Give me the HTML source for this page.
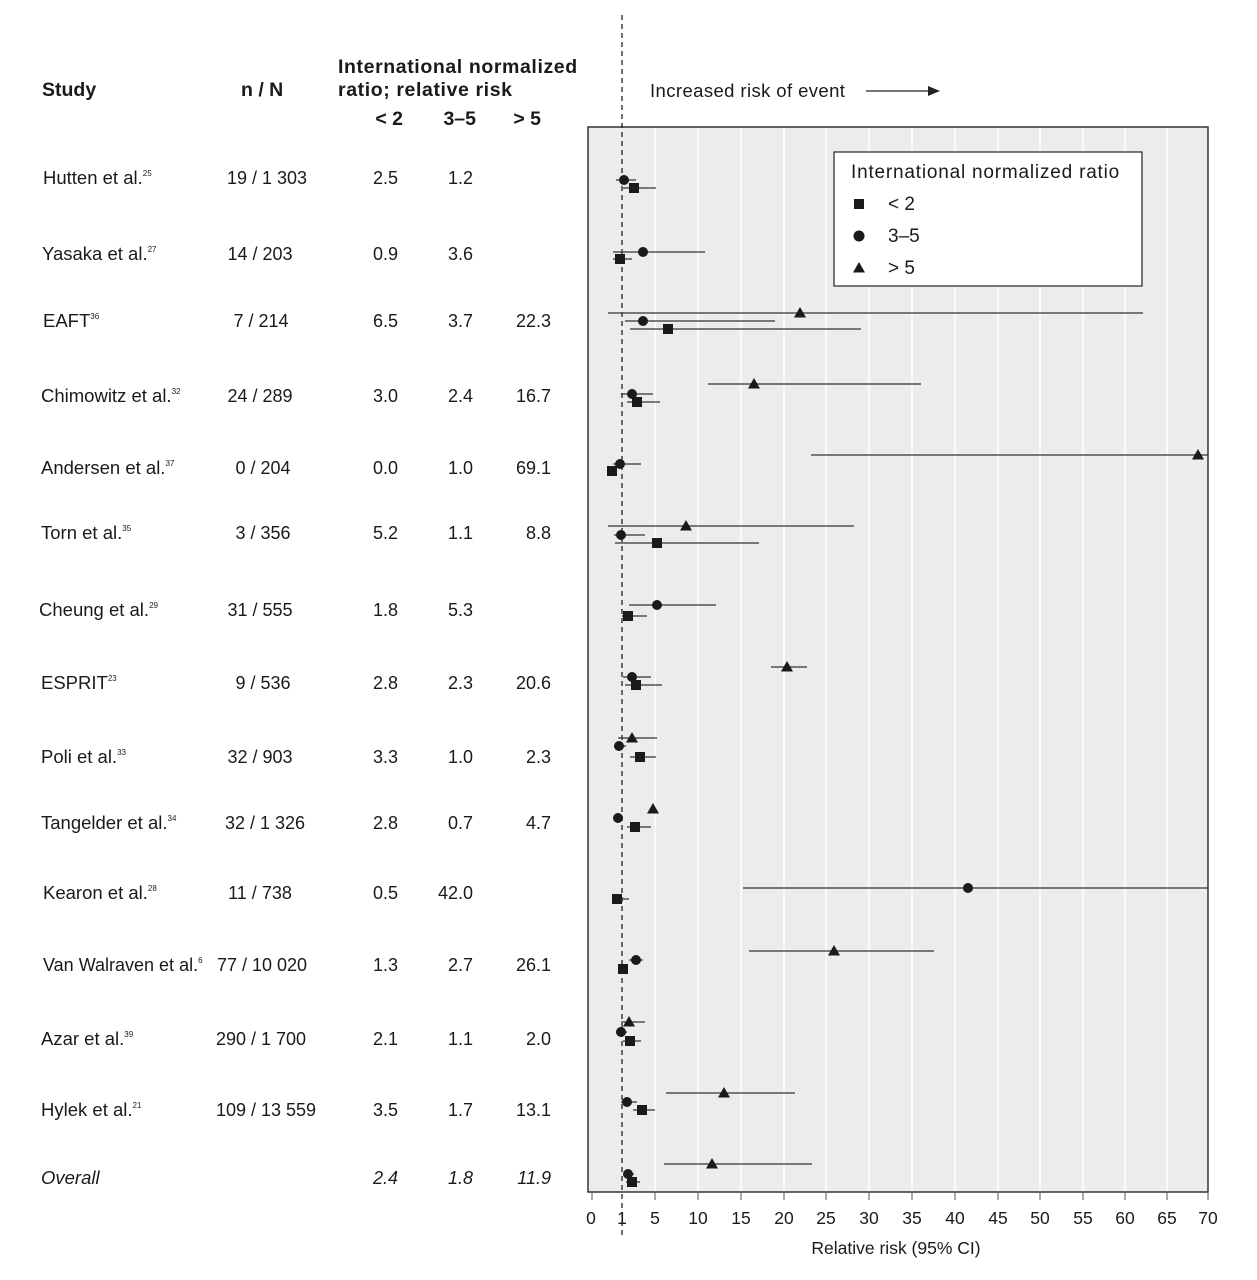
<!DOCTYPE html>
<html><head><meta charset="utf-8"><style>
html,body{margin:0;padding:0;background:#fff}
svg{display:block;font-family:"Liberation Sans",sans-serif;fill:#1a1a1a}
.b{font-weight:bold}
</style></head><body>
<svg width="1257" height="1280" viewBox="0 0 1257 1280" xmlns="http://www.w3.org/2000/svg">
<defs>
<path id="tri" d="M0,-6 L6,4.5 L-6,4.5 Z"/>
</defs>
<rect x="588" y="127" width="620" height="1065" fill="#ececec" stroke="#333" stroke-width="1.5"/>
<g stroke="#fff" stroke-width="1.5">
<line x1="655" y1="128" x2="655" y2="1191"/><line x1="698" y1="128" x2="698" y2="1191"/>
<line x1="741" y1="128" x2="741" y2="1191"/><line x1="784" y1="128" x2="784" y2="1191"/>
<line x1="826" y1="128" x2="826" y2="1191"/><line x1="869" y1="128" x2="869" y2="1191"/>
<line x1="912" y1="128" x2="912" y2="1191"/><line x1="955" y1="128" x2="955" y2="1191"/>
<line x1="998" y1="128" x2="998" y2="1191"/><line x1="1040" y1="128" x2="1040" y2="1191"/>
<line x1="1083" y1="128" x2="1083" y2="1191"/><line x1="1125" y1="128" x2="1125" y2="1191"/>
<line x1="1167" y1="128" x2="1167" y2="1191"/>
</g>
<g stroke="#555" stroke-width="1">
<line x1="592" y1="1192" x2="592" y2="1200"/><line x1="655" y1="1192" x2="655" y2="1200"/>
<line x1="698" y1="1192" x2="698" y2="1200"/><line x1="741" y1="1192" x2="741" y2="1200"/>
<line x1="784" y1="1192" x2="784" y2="1200"/><line x1="826" y1="1192" x2="826" y2="1200"/>
<line x1="869" y1="1192" x2="869" y2="1200"/><line x1="912" y1="1192" x2="912" y2="1200"/>
<line x1="955" y1="1192" x2="955" y2="1200"/><line x1="998" y1="1192" x2="998" y2="1200"/>
<line x1="1040" y1="1192" x2="1040" y2="1200"/><line x1="1083" y1="1192" x2="1083" y2="1200"/>
<line x1="1125" y1="1192" x2="1125" y2="1200"/><line x1="1167" y1="1192" x2="1167" y2="1200"/>
<line x1="1208" y1="1192" x2="1208" y2="1200"/>
</g>
<g font-size="17.5" text-anchor="middle">
<text x="591" y="1224">0</text><text x="622" y="1224">1</text><text x="655" y="1224">5</text>
<text x="698" y="1224">10</text><text x="741" y="1224">15</text><text x="784" y="1224">20</text>
<text x="826" y="1224">25</text><text x="869" y="1224">30</text><text x="912" y="1224">35</text>
<text x="955" y="1224">40</text><text x="998" y="1224">45</text><text x="1040" y="1224">50</text>
<text x="1083" y="1224">55</text><text x="1125" y="1224">60</text><text x="1167" y="1224">65</text>
<text x="1208" y="1224">70</text>
<text x="896" y="1254">Relative risk (95% CI)</text>
</g>
<line x1="622" y1="15" x2="622" y2="1236" stroke="#222" stroke-width="1.3" stroke-dasharray="5,4"/>
<text x="650" y="97" font-size="18.5" letter-spacing="0.4">Increased risk of event</text>
<line x1="866" y1="91" x2="934" y2="91" stroke="#222" stroke-width="1.3"/>
<path d="M940,91 L928,86 L928,96 Z" fill="#222"/>
<!-- legend -->
<rect x="834" y="152" width="308" height="134" fill="#fff" stroke="#333" stroke-width="1.3"/>
<text x="851" y="178" font-size="19" letter-spacing="0.8">International normalized ratio</text>
<rect x="854" y="199" width="10" height="10" fill="#1a1a1a"/>
<text x="888" y="210" font-size="19">&lt; 2</text>
<circle cx="859" cy="236" r="5.5"/>
<text x="888" y="242" font-size="19">3–5</text>
<use href="#tri" x="859" y="268"/>
<text x="888" y="274" font-size="19">&gt; 5</text>
<!-- CIs -->
<g stroke="#333" stroke-width="1.3">
<line x1="616" y1="180" x2="636" y2="180"/><line x1="623" y1="188" x2="656" y2="188"/>
<line x1="613" y1="252" x2="705" y2="252"/><line x1="613" y1="259" x2="632" y2="259"/>
<line x1="608" y1="313" x2="1143" y2="313"/><line x1="625" y1="321" x2="775" y2="321"/><line x1="630" y1="329" x2="861" y2="329"/>
<line x1="708" y1="384" x2="921" y2="384"/><line x1="621" y1="394" x2="653" y2="394"/><line x1="627" y1="402" x2="660" y2="402"/>
<line x1="811" y1="455" x2="1208" y2="455"/><line x1="613" y1="464" x2="641" y2="464"/>
<line x1="608" y1="526" x2="854" y2="526"/><line x1="614" y1="535" x2="645" y2="535"/><line x1="615" y1="543" x2="759" y2="543"/>
<line x1="629" y1="605" x2="716" y2="605"/><line x1="622" y1="616" x2="647" y2="616"/>
<line x1="771" y1="667" x2="807" y2="667"/><line x1="623" y1="677" x2="651" y2="677"/><line x1="625" y1="685" x2="662" y2="685"/>
<line x1="618" y1="738" x2="657" y2="738"/><line x1="614" y1="746" x2="626" y2="746"/><line x1="630" y1="757" x2="656" y2="757"/>
<line x1="627" y1="827" x2="651" y2="827"/>
<line x1="743" y1="888" x2="1208" y2="888"/><line x1="612" y1="899" x2="629" y2="899"/>
<line x1="749" y1="951" x2="934" y2="951"/><line x1="629" y1="960" x2="643" y2="960"/><line x1="620" y1="969" x2="627" y2="969"/>
<line x1="621" y1="1022" x2="645" y2="1022"/><line x1="616" y1="1032" x2="627" y2="1032"/><line x1="623" y1="1041" x2="641" y2="1041"/>
<line x1="666" y1="1093" x2="795" y2="1093"/><line x1="621" y1="1102" x2="637" y2="1102"/><line x1="633" y1="1110" x2="655" y2="1110"/>
<line x1="664" y1="1164" x2="812" y2="1164"/><line x1="623" y1="1174" x2="634" y2="1174"/><line x1="626" y1="1182" x2="640" y2="1182"/>
</g>
<!-- markers -->
<g fill="#1a1a1a">
<circle cx="624" cy="180" r="5"/><rect x="629" y="183" width="10" height="10"/>
<circle cx="643" cy="252" r="5"/><rect x="615" y="254" width="10" height="10"/>
<use href="#tri" x="800" y="313"/><circle cx="643" cy="321" r="5"/><rect x="663" y="324" width="10" height="10"/>
<use href="#tri" x="754" y="384"/><circle cx="632" cy="394" r="5"/><rect x="632" y="397" width="10" height="10"/>
<use href="#tri" x="1198" y="455"/><circle cx="620" cy="464" r="5"/><rect x="607" y="466" width="10" height="10"/>
<use href="#tri" x="686" y="526"/><circle cx="621" cy="535" r="5"/><rect x="652" y="538" width="10" height="10"/>
<circle cx="657" cy="605" r="5"/><rect x="623" y="611" width="10" height="10"/>
<use href="#tri" x="787" y="667"/><circle cx="632" cy="677" r="5"/><rect x="631" y="680" width="10" height="10"/>
<use href="#tri" x="632" y="738"/><circle cx="619" cy="746" r="5"/><rect x="635" y="752" width="10" height="10"/>
<use href="#tri" x="653" y="809"/><circle cx="618" cy="818" r="5"/><rect x="630" y="822" width="10" height="10"/>
<circle cx="968" cy="888" r="5"/><rect x="612" y="894" width="10" height="10"/>
<use href="#tri" x="834" y="951"/><circle cx="636" cy="960" r="5"/><rect x="618" y="964" width="10" height="10"/>
<use href="#tri" x="629" y="1022"/><circle cx="621" cy="1032" r="5"/><rect x="625" y="1036" width="10" height="10"/>
<use href="#tri" x="724" y="1093"/><circle cx="627" cy="1102" r="5"/><rect x="637" y="1105" width="10" height="10"/>
<use href="#tri" x="712" y="1164"/><circle cx="628" cy="1174" r="5"/><rect x="627" y="1177" width="10" height="10"/>
</g>
<!-- table -->
<g font-size="19.5">
<text x="42" y="96" class="b">Study</text>
<text x="241" y="96" class="b">n / N</text>
<text x="338" y="73" class="b" letter-spacing="0.6">International normalized</text>
<text x="338" y="96" class="b" letter-spacing="0.6">ratio; relative risk</text>
<text x="403" y="125" class="b" text-anchor="end">&lt; 2</text>
<text x="476" y="125" class="b" text-anchor="end">3–5</text>
<text x="541" y="125" class="b" text-anchor="end">&gt; 5</text>
</g>
<g font-size="18.5">
<text x="43" y="184">Hutten et al.<tspan font-size="8" dy="-8">25</tspan></text>
<text x="42" y="260">Yasaka et al.<tspan font-size="8" dy="-8">27</tspan></text>
<text x="43" y="327">EAFT<tspan font-size="8" dy="-8">36</tspan></text>
<text x="41" y="402">Chimowitz et al.<tspan font-size="8" dy="-8">32</tspan></text>
<text x="41" y="474">Andersen et al.<tspan font-size="8" dy="-8">37</tspan></text>
<text x="41" y="539">Torn et al.<tspan font-size="8" dy="-8">35</tspan></text>
<text x="39" y="616">Cheung et al.<tspan font-size="8" dy="-8">29</tspan></text>
<text x="41" y="689">ESPRIT<tspan font-size="8" dy="-8">23</tspan></text>
<text x="41" y="763">Poli et al.<tspan font-size="8" dy="-8">33</tspan></text>
<text x="41" y="829">Tangelder et al.<tspan font-size="8" dy="-8">34</tspan></text>
<text x="43" y="899">Kearon et al.<tspan font-size="8" dy="-8">28</tspan></text>
<text x="43" y="971" font-size="18">Van Walraven et al.<tspan font-size="8" dy="-8">6</tspan></text>
<text x="41" y="1045">Azar et al.<tspan font-size="8" dy="-8">39</tspan></text>
<text x="41" y="1116">Hylek et al.<tspan font-size="8" dy="-8">21</tspan></text>
<text x="41" y="1184" font-style="italic">Overall</text>
</g>
<g font-size="18" text-anchor="middle">
<text x="267" y="184">19 / 1 303</text>
<text x="260" y="260">14 / 203</text>
<text x="261" y="327">7 / 214</text>
<text x="260" y="402">24 / 289</text>
<text x="263" y="474">0 / 204</text>
<text x="263" y="539">3 / 356</text>
<text x="260" y="616">31 / 555</text>
<text x="263" y="689">9 / 536</text>
<text x="260" y="763">32 / 903</text>
<text x="265" y="829">32 / 1 326</text>
<text x="260" y="899">11 / 738</text>
<text x="262" y="971">77 / 10 020</text>
<text x="261" y="1045">290 / 1 700</text>
<text x="266" y="1116">109 / 13 559</text>
</g>
<g font-size="18" text-anchor="end">
<text x="398" y="184">2.5</text><text x="473" y="184">1.2</text>
<text x="398" y="260">0.9</text><text x="473" y="260">3.6</text>
<text x="398" y="327">6.5</text><text x="473" y="327">3.7</text><text x="551" y="327">22.3</text>
<text x="398" y="402">3.0</text><text x="473" y="402">2.4</text><text x="551" y="402">16.7</text>
<text x="398" y="474">0.0</text><text x="473" y="474">1.0</text><text x="551" y="474">69.1</text>
<text x="398" y="539">5.2</text><text x="473" y="539">1.1</text><text x="551" y="539">8.8</text>
<text x="398" y="616">1.8</text><text x="473" y="616">5.3</text>
<text x="398" y="689">2.8</text><text x="473" y="689">2.3</text><text x="551" y="689">20.6</text>
<text x="398" y="763">3.3</text><text x="473" y="763">1.0</text><text x="551" y="763">2.3</text>
<text x="398" y="829">2.8</text><text x="473" y="829">0.7</text><text x="551" y="829">4.7</text>
<text x="398" y="899">0.5</text><text x="473" y="899">42.0</text>
<text x="398" y="971">1.3</text><text x="473" y="971">2.7</text><text x="551" y="971">26.1</text>
<text x="398" y="1045">2.1</text><text x="473" y="1045">1.1</text><text x="551" y="1045">2.0</text>
<text x="398" y="1116">3.5</text><text x="473" y="1116">1.7</text><text x="551" y="1116">13.1</text>
<g font-style="italic"><text x="398" y="1184">2.4</text><text x="473" y="1184">1.8</text><text x="551" y="1184">11.9</text></g>
</g>
</svg>
</body></html>
